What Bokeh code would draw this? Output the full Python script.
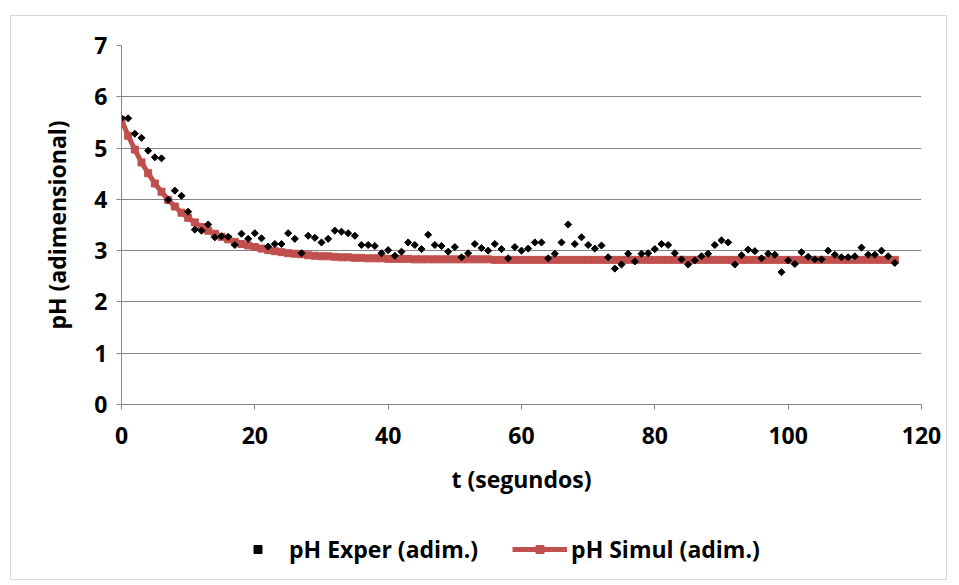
from bokeh.plotting import figure
from bokeh.layouts import column
from bokeh.models import Legend, LegendItem, FixedTicker, Range1d
from bokeh.embed import file_html
from bokeh.resources import INLINE

# ---- data ----
t_seconds = list(range(0, 117))

ph_exper = [5.58, 5.58, 5.28, 5.20, 4.95, 4.82, 4.80, 3.99, 4.17, 4.07,
            3.76, 3.41, 3.39, 3.51, 3.26, 3.28, 3.27, 3.11, 3.33, 3.23,
            3.34, 3.24, 3.08, 3.13, 3.13, 3.34, 3.23, 2.95, 3.29, 3.25,
            3.16, 3.23, 3.39, 3.37, 3.34, 3.29, 3.11, 3.11, 3.09, 2.95,
            3.01, 2.90, 2.98, 3.16, 3.11, 3.03, 3.31, 3.11, 3.09, 2.98,
            3.07, 2.87, 2.95, 3.13, 3.05, 3.00, 3.13, 3.03, 2.85, 3.07,
            3.00, 3.04, 3.16, 3.16, 2.85, 2.94, 3.16, 3.51, 3.13, 3.26,
            3.11, 3.04, 3.10, 2.87, 2.65, 2.73, 2.94, 2.79, 2.94, 2.95,
            3.03, 3.13, 3.11, 2.95, 2.83, 2.73, 2.81, 2.89, 2.94, 3.11,
            3.20, 3.16, 2.73, 2.91, 3.02, 2.99, 2.85, 2.94, 2.92, 2.58,
            2.81, 2.74, 2.97, 2.88, 2.83, 2.83, 3.00, 2.92, 2.87, 2.87,
            2.89, 3.06, 2.92, 2.92, 3.00, 2.89, 2.76]

ph_simul = [5.55, 5.24, 4.97, 4.72, 4.51, 4.31, 4.15, 3.99, 3.86, 3.74,
            3.64, 3.55, 3.46, 3.39, 3.33, 3.27, 3.22, 3.17, 3.13, 3.10,
            3.07, 3.04, 3.01, 2.99, 2.97, 2.95, 2.94, 2.93, 2.91, 2.90,
            2.89, 2.89, 2.88, 2.87, 2.87, 2.86, 2.86, 2.85, 2.85, 2.85,
            2.84, 2.84, 2.84, 2.84, 2.83, 2.83, 2.83, 2.83, 2.83, 2.83,
            2.83, 2.83, 2.83, 2.83, 2.83, 2.83, 2.82, 2.82, 2.82, 2.82,
            2.82, 2.82, 2.82, 2.82, 2.82, 2.82, 2.82, 2.82, 2.82, 2.82,
            2.82, 2.82, 2.82, 2.82, 2.82, 2.82, 2.82, 2.82, 2.82, 2.82,
            2.82, 2.82, 2.82, 2.82, 2.82, 2.82, 2.82, 2.82, 2.82, 2.82,
            2.82, 2.82, 2.82, 2.82, 2.82, 2.82, 2.82, 2.82, 2.82, 2.82,
            2.82, 2.82, 2.82, 2.82, 2.82, 2.82, 2.82, 2.82, 2.82, 2.82,
            2.82, 2.82, 2.82, 2.82, 2.82, 2.82, 2.82]

x_ticks = [0, 20, 40, 60, 80, 100, 120]
y_ticks = [0, 1, 2, 3, 4, 5, 6, 7]

label_exper = "pH Exper (adim.)"
label_simul = "pH Simul (adim.)"
x_title = "t (segundos)"
y_title = "pH (adimensional)"

FONT = "Open Sans"
FSIZE = "23px"
GRAY = "#868686"
RED = "#C0504D"

# ---- main chart ----
p = figure(frame_width=800, frame_height=359,
           x_range=Range1d(0, 120), y_range=Range1d(0, 7),
           output_backend="svg", toolbar_location=None,
           min_border_left=110, min_border_right=25,
           min_border_top=29, min_border_bottom=105)
p.outline_line_color = None
p.background_fill_color = "white"
p.border_fill_color = "white"

r_line = p.line(t_seconds, ph_simul, line_color=RED, line_width=5)
r_sq = p.scatter(t_seconds, ph_simul, marker="square", size=7,
                 fill_color=RED, line_color=RED)
r_exp = p.scatter(t_seconds, ph_exper, marker="square", angle=0.785398,
                  size=5, fill_color="black", line_color="black")

for ax in (p.xaxis[0], p.yaxis[0]):
    ax.axis_line_color = GRAY
    ax.major_tick_line_color = GRAY
    ax.minor_tick_line_color = None
    ax.major_tick_out = 5
    ax.major_tick_in = 0
    ax.major_label_text_font = FONT
    ax.major_label_text_font_style = "bold"
    ax.major_label_text_font_size = FSIZE
    ax.major_label_text_color = "black"
    ax.axis_label_text_font = FONT
    ax.axis_label_text_font_style = "bold"
    ax.axis_label_text_font_size = FSIZE
    ax.axis_label_text_color = "black"

p.xaxis.ticker = FixedTicker(ticks=x_ticks)
p.yaxis.ticker = FixedTicker(ticks=y_ticks)
p.xaxis.axis_label = x_title
p.yaxis.axis_label = y_title
p.xaxis.major_label_standoff = 17
p.xaxis.axis_label_standoff = 16
p.yaxis.major_label_standoff = 9
p.yaxis.axis_label_standoff = 18

p.xgrid.visible = False
p.ygrid.ticker = FixedTicker(ticks=y_ticks)
p.ygrid.grid_line_color = GRAY
p.ygrid.grid_line_width = 1

# ---- legend strip: same series, drawn outside its visible range ----
lg = figure(width=935, height=70,
            x_range=Range1d(0, 1), y_range=Range1d(0, 1),
            output_backend="svg", toolbar_location=None,
            x_axis_type=None, y_axis_type=None, min_border=0)
lg.outline_line_color = None
lg.background_fill_color = "white"
lg.border_fill_color = "white"

k_exp = lg.scatter(t_seconds, ph_exper, marker="square", angle=0.785398, size=5,
                   fill_color="black", line_color="black")
k_line = lg.line(t_seconds, ph_simul, line_color=RED, line_width=5)
k_sq = lg.scatter(t_seconds, ph_simul, marker="square", size=7,
                  fill_color=RED, line_color=RED)

legend = Legend(items=[LegendItem(label=label_exper, renderers=[k_exp]),
                       LegendItem(label=label_simul, renderers=[k_line, k_sq])],
                orientation="horizontal", location=(109, 14),
                border_line_color=None, background_fill_alpha=0,
                glyph_width=55, glyph_height=20, label_standoff=4, spacing=34,
                label_text_font=FONT, label_text_font_style="bold",
                label_text_font_size=FSIZE, label_text_color="black",
                padding=0, margin=0)
lg.add_layout(legend)

layout = column(p, lg, spacing=0,
                styles={"border": "1px solid #D9D9D9",
                        "margin-left": "10px", "margin-top": "15px"})

open("out.html", "w").write(file_html(layout, INLINE))
